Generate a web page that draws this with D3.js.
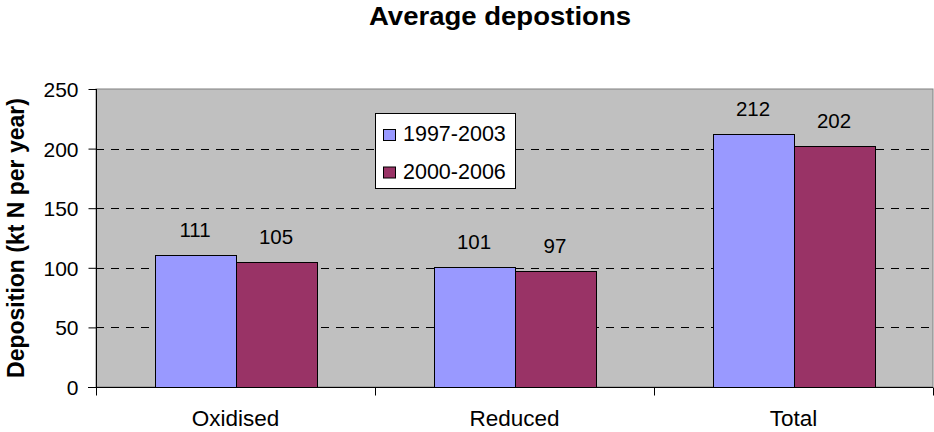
<!DOCTYPE html>
<html><head><meta charset="utf-8">
<script src="https://cdn.jsdelivr.net/npm/d3@7"></script>
<style>body{margin:0;background:#fff}svg{display:block}text{font-family:"Liberation Sans",Arial,sans-serif}</style>
</head><body><svg id="c" width="934" height="432"></svg>
<script>
const categories = ["Oxidised","Reduced","Total"];
const seriesNames = ["1997-2003","2000-2006"];
const values1997 = [111,101,212];
const values2000 = [105,97,202];
const yTicks = [0,50,100,150,200,250];
const colors = ["#9999FF","#993366"];

const svg = d3.select("#c");
const m = {l:96, r:933, t:89, b:387};
const x = d3.scaleBand().domain(categories).range([m.l,m.r]).paddingInner(0.4194).paddingOuter(0.2097);
const xs = d3.scaleBand().domain(seriesNames).range([0,x.bandwidth()]);
const y = d3.scaleLinear().domain([0,250]).range([m.b,m.t]);

svg.append("rect").attr("x",m.l).attr("y",m.t).attr("width",m.r-m.l).attr("height",m.b-m.t).attr("fill","#C0C0C0").attr("stroke","#808080").attr("stroke-width",1);

// gridlines
svg.append("g").selectAll("line").data(yTicks.filter(d=>d>0 && d<250)).join("line")
  .attr("x1",m.l).attr("x2",m.r).attr("y1",d=>Math.round(y(d))+0.5).attr("y2",d=>Math.round(y(d))+0.5)
  .attr("stroke","#000").attr("stroke-dasharray","8,7").attr("stroke-width",1);

const data = categories.map((c,i)=>({c, v:[values1997[i],values2000[i]]}));
const g = svg.append("g");
data.forEach(d=>{
  d.v.forEach((v,j)=>{
    const bx = x(d.c)+xs(seriesNames[j]);
    g.append("rect").attr("x",Math.round(bx)+0.5).attr("y",Math.round(y(v))+0.5)
      .attr("width",Math.round(xs.bandwidth())).attr("height",Math.round(y(0)-y(v)))
      .attr("fill",colors[j]).attr("stroke","#000").attr("stroke-width",1);
    g.append("text").attr("x",bx+xs.bandwidth()/2).attr("y",y(v)-18).attr("text-anchor","middle")
      .attr("font-size",20.5).attr("fill","#000").text(v);
  });
});

// y axis
const ya = svg.append("g").attr("transform",`translate(${m.l+0.5},0)`).call(d3.axisLeft(y).tickValues(yTicks).tickSize(8).tickPadding(10));
ya.selectAll("text").attr("font-size",21).attr("fill","#000").attr("dy","0.36em");
ya.selectAll("line,path").attr("stroke","#000");
ya.select(".domain").attr("d",`M0,${m.t}V${m.b}`);

// x axis
const xa = svg.append("g").attr("transform",`translate(0,${m.b+0.5})`);
xa.append("line").attr("x1",m.l-8).attr("x2",m.r).attr("stroke","#000");
const tickPos = d3.range(categories.length+1).map(i=>m.l + i*x.step());
xa.selectAll("line.t").data(tickPos).join("line").attr("class","t").attr("x1",d=>Math.round(d)+0.5).attr("x2",d=>Math.round(d)+0.5).attr("y1",0).attr("y2",8).attr("stroke","#000");
xa.selectAll("text").data(categories).join("text").attr("x",d=>x(d)+x.bandwidth()/2).attr("y",38.5)
  .attr("text-anchor","middle").attr("font-size",22.5).attr("fill","#000").text(d=>d);

// title
svg.append("text").attr("x",500).attr("y",25).attr("text-anchor","middle").attr("font-size",25).attr("font-weight","bold")
  .attr("textLength",262).attr("lengthAdjust","spacingAndGlyphs").text("Average depostions");
// y title
svg.append("text").attr("transform",`translate(24,238) rotate(-90)`).attr("text-anchor","middle").attr("font-size",23).attr("font-weight","bold").text("Deposition (kt N per year)");

// legend
const lg = svg.append("g");
lg.append("rect").attr("x",375.5).attr("y",113.5).attr("width",140).attr("height",75).attr("fill","#fff").attr("stroke","#000");
seriesNames.forEach((s,i)=>{
  const top = 129 + i*37.5;
  lg.append("rect").attr("x",383.5).attr("y",top+0.5).attr("width",12).attr("height",11).attr("fill",colors[i]).attr("stroke","#000");
  lg.append("text").attr("x",403).attr("y",top+12).attr("font-size",21.5).text(s);
});
</script></body></html>
